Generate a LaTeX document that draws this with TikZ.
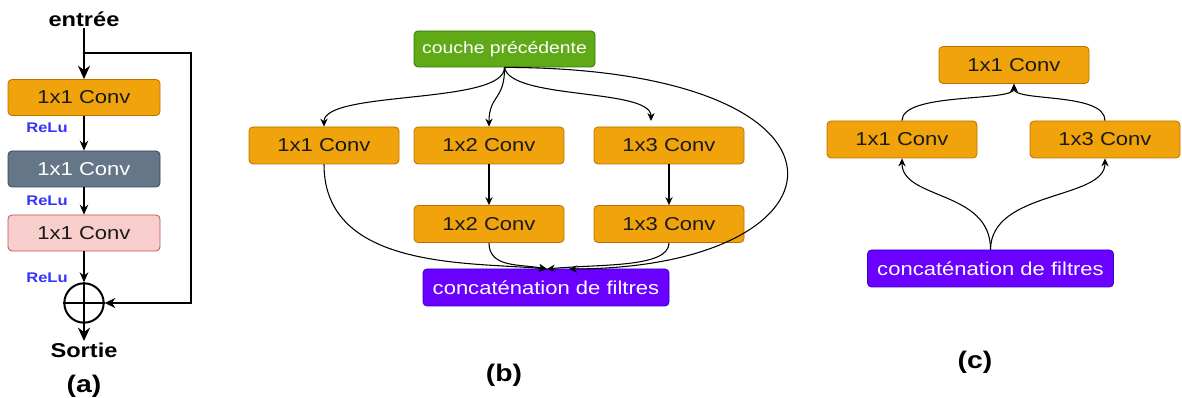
\documentclass[tikz,border=0pt]{standalone}
\usepackage{fontspec}
\setmainfont{Liberation Sans}[FakeStretch=1.18]
\usetikzlibrary{arrows.meta}
\definecolor{orfill}{HTML}{F0A30A}
\definecolor{ordraw}{HTML}{BD7000}
\definecolor{gyfill}{HTML}{647687}
\definecolor{gydraw}{HTML}{314354}
\definecolor{pkfill}{HTML}{F8CECC}
\definecolor{pkdraw}{HTML}{B85450}
\definecolor{grfill}{HTML}{60A917}
\definecolor{grdraw}{HTML}{2D7600}
\definecolor{pufill}{HTML}{6A00FF}
\definecolor{pudraw}{HTML}{3700CC}
\definecolor{txtdark}{HTML}{1A1A1A}
\definecolor{relublue}{HTML}{3333FF}
\begin{document}
\begin{tikzpicture}[x=0.75pt,y=-0.75pt,
  basebox/.style={rounded corners=3pt, inner sep=0pt, line width=0.6pt,
    font=\fontsize{14}{16}\selectfont},
  obox/.style={basebox, draw=ordraw, fill=orfill, text=txtdark,
    minimum width=112.5pt, minimum height=27.75pt},
  abox/.style={basebox, minimum width=114pt, minimum height=27pt},
  gbox/.style={basebox, draw=grdraw, fill=grfill, text=white,
    minimum width=135.75pt, minimum height=27pt, font=\fontsize{12.3}{14}\selectfont},
  pbox/.style={basebox, draw=pudraw, fill=pufill, text=white,
    minimum width=184.5pt, minimum height=27.75pt},
  relu/.style={font=\bfseries\fontsize{10.5}{12}\selectfont, text=relublue, inner sep=0pt},
  lbl/.style={font=\bfseries\fontsize{15}{17}\selectfont, inner sep=1pt},
  captxt/.style={font=\bfseries\fontsize{18}{20}\selectfont, inner sep=0pt},
  arrthin/.style={line width=0.9pt, -{Stealth[length=7.5pt,width=6.5pt]}},
  arrthick/.style={line width=1.8pt, -{Stealth[length=10pt,width=9pt]}},
  conn/.style={line width=0.8pt, -{Stealth[length=6pt,width=5.5pt]}}]
\useasboundingbox (0,0) rectangle (1182,398);

% ---------------- (a)
\node[lbl] (entree) at (84,19) {entrée};
\node[abox, draw=ordraw, fill=orfill, text=txtdark] (a1) at (84,97.5) {1x1 Conv};
\node[abox, draw=gydraw, fill=gyfill, text=white] (a2) at (84,169) {1x1 Conv};
\node[abox, draw=pkdraw, fill=pkfill, text=txtdark] (a3) at (84,233) {1x1 Conv};
\node[relu] (r1) at (47,128) {ReLu};
\node[relu] (r2) at (47,201) {ReLu};
\node[relu] (r3) at (47,278) {ReLu};
\node[circle, draw, line width=1.5pt, minimum size=29.5pt, inner sep=0pt] (plus) at (84,303) {};
\draw[line width=1.5pt] (plus.west) -- (plus.east);
\draw[line width=1.5pt] (plus.north) -- (plus.south);
\node[lbl] (sortie) at (84,350) {Sortie};
\node[captxt] (capa) at (84,386) {(a)};

\draw[arrthick] (entree.south) -- (a1.north);
\draw[arrthin] (a1.south) -- (a2.north);
\draw[arrthin] (a2.south) -- (a3.north);
\draw[arrthin] (a3.south) -- (plus.north);
\draw[arrthick] (plus.south) -- (sortie.north);
\coordinate (br) at (84,53);
\coordinate (k1) at (191,53);
\coordinate (k2) at (191,303);
\draw[line width=1.6pt, -{Stealth[length=8pt,width=7.5pt]}] (br) -- (k1) -- (k2) -- (plus.east);

% ---------------- (b)
\node[gbox] (cp) at (504.5,49) {couche précédente};
\node[obox] (b11) at (324,145.5) {1x1 Conv};
\node[obox] (b12) at (489,145.5) {1x2 Conv};
\node[obox] (b13) at (669,145.5) {1x3 Conv};
\node[obox] (b22) at (489,224) {1x2 Conv};
\node[obox] (b23) at (669,224) {1x3 Conv};
\node[pbox] (bcat) at (546,287.5) {concaténation de filtres};
\node[captxt] (capb) at (504,375) {(b)};

\coordinate (t13) at (651,121);
\coordinate (cin) at (547,269);
\coordinate (cin2) at (569,269);
\draw[conn] (cp.south) .. controls (505,105) and (324,90) .. (b11.north);
\draw[conn] (cp.south) .. controls (505,100) and (489,95) .. (b12.north);
\draw[conn] (cp.south) .. controls (510,100) and (651,88) .. (t13);
\draw[conn] (cp.south) .. controls (880,68) and (860,268) .. (cin2);
\draw[conn] (b12.south) -- (b22.north);
\draw[conn] (b13.south) -- (b23.north);
\draw[conn] (b11.south) .. controls (324,270) and (470,262) .. (cin);
\draw[conn] (b22.south) .. controls (489,268) and (520,264) .. (cin);
\draw[conn] (b23.south) .. controls (669,268) and (600,264) .. (cin);

% ---------------- (c)
\node[obox] (c0) at (1014,65) {1x1 Conv};
\node[obox] (c1) at (902,139.5) {1x1 Conv};
\node[obox] (c3) at (1105,139.5) {1x3 Conv};
\node[pbox] (ccat) at (990.5,268.5) {concaténation de filtres};
\node[captxt] (capc) at (975,362) {(c)};

\draw[conn] (ccat.north) .. controls (991,190) and (902,200) .. (c1.south);
\draw[conn] (ccat.north) .. controls (991,190) and (1105,200) .. (c3.south);
\draw[conn] (c1.north) .. controls (902,92) and (1014,102) .. (c0.south);
\draw[conn] (c3.north) .. controls (1105,92) and (1014,102) .. (c0.south);
\end{tikzpicture}
\end{document}
